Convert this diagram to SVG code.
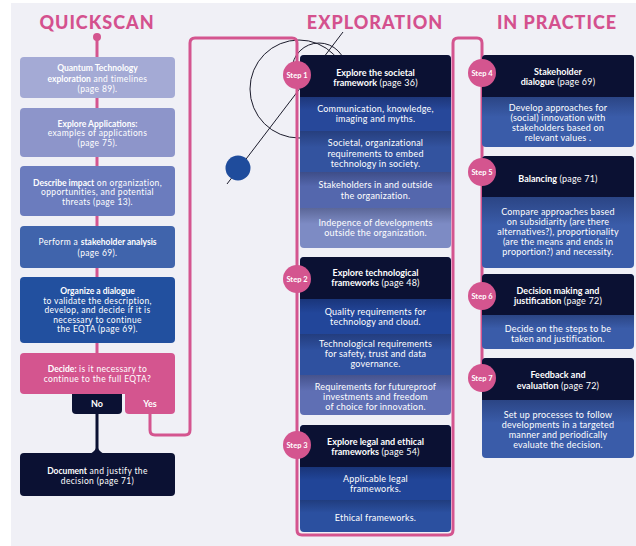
<svg xmlns="http://www.w3.org/2000/svg" width="636" height="546" viewBox="0 0 636 546">
  <style>
    .title { fill: #d4518e; font-family: Lato, "Open Sans", sans-serif; font-weight: 900; font-size: 18px; letter-spacing: 1px; text-anchor: middle; }
    .t { fill: #ffffff; font-family: Lato, "Open Sans", sans-serif; font-size: 9px; letter-spacing: 0.2px; text-anchor: middle; }
    .s { font-size: 8.5px; letter-spacing: 0.35px; }
    .b { font-weight: 700; letter-spacing: 0; }
    .conn { fill: none; stroke: #d4558f; stroke-width: 3; stroke-linejoin: round; }
    .deco { fill: none; stroke: #1c1c2c; stroke-width: 1; }
    .navy { fill: #0b1133; }
    .pink { fill: #d4558f; }
    .shade { fill: url(#rowShade); }
    .step { fill: #d4558f; }
    .steplbl { fill: #ffffff; font-family: Lato, "Open Sans", sans-serif; font-weight: 700; font-size: 7.5px; text-anchor: middle; }
  </style>
  <defs>
    <linearGradient id="rowShade" x1="0" y1="0" x2="0" y2="1">
      <stop offset="0" stop-color="#050a28" stop-opacity="0.28"/>
      <stop offset="0.4" stop-color="#050a28" stop-opacity="0"/>
    </linearGradient>
  </defs>

  <!-- page -->
  <rect x="0" y="0" width="636" height="546" fill="#ffffff"/>
  <rect x="11" y="3" width="625" height="543" fill="#f0f0f6"/>

  <!-- column titles -->
  <text class="title" x="97" y="29">QUICKSCAN</text>
  <text class="title" x="375" y="29">EXPLORATION</text>
  <text class="title" x="557" y="29">IN PRACTICE</text>

  <!-- decorative circles and line -->
  <g id="decoration">
    <circle class="deco" cx="299" cy="89" r="49"/>
    <circle class="deco" cx="319" cy="70" r="27"/>
    <line class="deco" x1="227" y1="184" x2="343" y2="32"/>
    <circle cx="238" cy="168" r="12.5" fill="#1f4c9c"/>
  </g>

  <!-- connectors -->
  <g id="connectors">
    <line class="conn" x1="97" y1="37" x2="97" y2="360"/>
    <circle cx="97" cy="37" r="4" class="pink"/>
    <path class="conn" d="M150,410 V430 Q150,435 155,435 H185 Q190,435 190,430 V43 Q190,38 195,38 H292 Q297,38 297,43 V530 Q297,535 302,535 H448 Q453,535 453,530 V43 Q453,38 458,38 H477 Q482,38 482,43 V378"/>
    <path d="M97,412 V452" fill="none" stroke="#0b1133" stroke-width="3"/>
    <path d="M90,454 Q97,450 97,444 Q97,450 104,454 Z" class="navy"/>
  </g>

  <!-- QUICKSCAN column -->
  <g id="qs-technology">
    <rect x="20" y="57" width="155" height="41" rx="4" fill="#a4aad5"/>
    <text class="t s" x="97.5" y="71"><tspan class="b">Quantum Technology</tspan></text>
    <text class="t s" x="97.5" y="81.5"><tspan class="b">exploration</tspan> and timelines</text>
    <text class="t s" x="97.5" y="92">(page 89).</text>
  </g>
  <g id="qs-applications">
    <rect x="20" y="108" width="155" height="49" rx="4" fill="#8d95ca"/>
    <text class="t s" x="97.5" y="126.5"><tspan class="b">Explore Applications:</tspan></text>
    <text class="t s" x="97.5" y="136">examples of applications</text>
    <text class="t s" x="97.5" y="145.5">(page 75).</text>
  </g>
  <g id="qs-impact">
    <rect x="20" y="166" width="155" height="50" rx="4" fill="#6b7cbe"/>
    <text class="t s" x="97.5" y="185.5"><tspan class="b">Describe impact</tspan> on organization,</text>
    <text class="t s" x="97.5" y="195">opportunities, and potential</text>
    <text class="t s" x="97.5" y="204.5">threats (page 13).</text>
  </g>
  <g id="qs-stakeholders">
    <rect x="20" y="226" width="155" height="42" rx="4" fill="#4064ac"/>
    <text class="t s" x="97.5" y="245">Perform a <tspan class="b">stakeholder analysis</tspan></text>
    <text class="t s" x="97.5" y="256">(page 69).</text>
  </g>
  <g id="qs-dialogue">
    <rect x="20" y="277" width="155" height="66" rx="4" fill="#22509f"/>
    <text class="t s" x="97.5" y="294"><tspan class="b">Organize a dialogue</tspan></text>
    <text class="t s" x="97.5" y="303.5">to validate the description,</text>
    <text class="t s" x="97.5" y="313">develop, and decide if it is</text>
    <text class="t s" x="97.5" y="322.5">necessary to continue</text>
    <text class="t s" x="97.5" y="332">the EQTA (page 69).</text>
  </g>
  <g id="qs-decide">
    <rect x="20" y="353" width="155" height="41" rx="4" class="pink"/>
    <path d="M125,388 H175 V410 Q175,414 171,414 H129 Q125,414 125,410 Z" class="pink"/>
    <text class="t s" x="97.5" y="371.5"><tspan class="b">Decide:</tspan> is it necessary to</text>
    <text class="t s" x="97.5" y="381.5">continue to the full EQTA?</text>
  </g>
  <g id="qs-no">
    <path d="M72,394 H122 V410 Q122,414 118,414 H76 Q72,414 72,410 Z" class="navy"/>
    <text class="t b" x="97" y="407">No</text>
  </g>
  <g id="qs-yes">
    <text class="t b" x="150" y="407">Yes</text>
  </g>
  <g id="qs-document">
    <rect x="20" y="453" width="155" height="43" rx="4" class="navy"/>
    <text class="t s" x="97.5" y="473.5"><tspan class="b">Document</tspan> and justify the</text>
    <text class="t s" x="97.5" y="483.5">decision (page 71)</text>
  </g>

  <!-- EXPLORATION column -->
  <g id="step1">
    <rect x="300" y="55" width="151" height="193" rx="4" fill="#7d8bc4"/>
    <rect x="300" y="97" width="151" height="34" fill="#27489a"/>
    <rect x="300" y="131" width="151" height="41" fill="#33539f"/>
    <rect x="300" y="172" width="151" height="36" fill="#5467ad"/>
    <rect class="shade" x="300" y="97" width="151" height="34"/>
    <rect class="shade" x="300" y="131" width="151" height="41"/>
    <rect class="shade" x="300" y="172" width="151" height="36"/>
    <rect class="shade" x="300" y="208" width="151" height="40"/>
    <path class="navy" d="M300,97 V59 Q300,55 304,55 H447 Q451,55 451,59 V97 Z"/>
    <text class="t" x="375.5" y="76"><tspan class="b">Explore the societal</tspan></text>
    <text class="t" x="375.5" y="86"><tspan class="b">framework</tspan> (page 36)</text>
    <text class="t" x="375.5" y="112">Communication, knowledge,</text>
    <text class="t" x="375.5" y="122">imaging and myths.</text>
    <text class="t" x="375.5" y="146">Societal, organizational</text>
    <text class="t" x="375.5" y="156.5">requirements to embed</text>
    <text class="t" x="375.5" y="167">technology in society.</text>
    <text class="t" x="375.5" y="188">Stakeholders in and outside</text>
    <text class="t" x="375.5" y="199">the organization.</text>
    <text class="t" x="375.5" y="226">Indepence of developments</text>
    <text class="t" x="375.5" y="236">outside the organization.</text>
    <circle class="step" cx="297" cy="75" r="14"/>
    <text class="steplbl" x="297" y="77.5">Step 1</text>
  </g>
  <g id="step2">
    <rect x="300" y="257" width="151" height="158" rx="4" fill="#5f6fb4"/>
    <rect x="300" y="299" width="151" height="35" fill="#22469a"/>
    <rect x="300" y="334" width="151" height="41" fill="#2f51a0"/>
    <rect class="shade" x="300" y="299" width="151" height="35"/>
    <rect class="shade" x="300" y="334" width="151" height="41"/>
    <rect class="shade" x="300" y="375" width="151" height="40"/>
    <path class="navy" d="M300,299 V261 Q300,257 304,257 H447 Q451,257 451,261 V299 Z"/>
    <text class="t" x="375.5" y="276"><tspan class="b">Explore technological</tspan></text>
    <text class="t" x="375.5" y="286"><tspan class="b">frameworks</tspan> (page 48)</text>
    <text class="t" x="375.5" y="314.5">Quality requirements for</text>
    <text class="t" x="375.5" y="324.5">technology and cloud.</text>
    <text class="t" x="375.5" y="347">Technological requirements</text>
    <text class="t" x="375.5" y="357">for safety, trust and data</text>
    <text class="t" x="375.5" y="367">governance.</text>
    <text class="t" x="375.5" y="389.5">Requirements for futureproof</text>
    <text class="t" x="375.5" y="399.5">investments and freedom</text>
    <text class="t" x="375.5" y="409.5">of choice for innovation.</text>
    <circle class="step" cx="297" cy="279" r="14"/>
    <text class="steplbl" x="297" y="281.5">Step 2</text>
  </g>
  <g id="step3">
    <rect x="300" y="425" width="151" height="107" rx="4" fill="#2b50a0"/>
    <rect x="300" y="467" width="151" height="33" fill="#214598"/>
    <rect class="shade" x="300" y="467" width="151" height="33"/>
    <rect class="shade" x="300" y="500" width="151" height="32"/>
    <path class="navy" d="M300,467 V429 Q300,425 304,425 H447 Q451,425 451,429 V467 Z"/>
    <text class="t" x="375.5" y="445"><tspan class="b">Explore legal and ethical</tspan></text>
    <text class="t" x="375.5" y="455"><tspan class="b">frameworks</tspan> (page 54)</text>
    <text class="t" x="375.5" y="482">Applicable legal</text>
    <text class="t" x="375.5" y="492">frameworks.</text>
    <text class="t" x="375.5" y="521">Ethical frameworks.</text>
    <circle class="step" cx="297" cy="445" r="14"/>
    <text class="steplbl" x="297" y="447.5">Step 3</text>
  </g>

  <!-- IN PRACTICE column -->
  <g id="step4">
    <rect x="482" y="55" width="152" height="92" rx="4" fill="#3a5ca9"/>
    <rect class="shade" x="482" y="97" width="152" height="50"/>
    <path class="navy" d="M482,97 V59 Q482,55 486,55 H630 Q634,55 634,59 V97 Z"/>
    <text class="t" x="558" y="75"><tspan class="b">Stakeholder</tspan></text>
    <text class="t" x="558" y="85"><tspan class="b">dialogue</tspan> (page 69)</text>
    <text class="t" x="558" y="111">Develop approaches for</text>
    <text class="t" x="558" y="121">(social) innovation with</text>
    <text class="t" x="558" y="131">stakeholders based on</text>
    <text class="t" x="558" y="141">relevant values .</text>
    <circle class="step" cx="482" cy="73" r="14"/>
    <text class="steplbl" x="482" y="75.5">Step 4</text>
  </g>
  <g id="step5">
    <rect x="482" y="156" width="152" height="112" rx="4" fill="#3a5ca9"/>
    <rect class="shade" x="482" y="197" width="152" height="71"/>
    <path class="navy" d="M482,197 V160 Q482,156 486,156 H630 Q634,156 634,160 V197 Z"/>
    <text class="t" x="558" y="182"><tspan class="b">Balancing</tspan> (page 71)</text>
    <text class="t" x="558" y="215">Compare approaches based</text>
    <text class="t" x="558" y="225">on subsidiarity (are there</text>
    <text class="t" x="558" y="235">alternatives?), proportionality</text>
    <text class="t" x="558" y="245">(are the means and ends in</text>
    <text class="t" x="558" y="255">proportion?) and necessity.</text>
    <circle class="step" cx="482" cy="172" r="14"/>
    <text class="steplbl" x="482" y="174.5">Step 5</text>
  </g>
  <g id="step6">
    <rect x="482" y="274" width="152" height="75" rx="4" fill="#3a5ca9"/>
    <rect class="shade" x="482" y="315" width="152" height="34"/>
    <path class="navy" d="M482,315 V278 Q482,274 486,274 H630 Q634,274 634,278 V315 Z"/>
    <text class="t" x="558" y="294"><tspan class="b">Decision making and</tspan></text>
    <text class="t" x="558" y="304"><tspan class="b">justification</tspan> (page 72)</text>
    <text class="t" x="558" y="331.5">Decide on the steps to be</text>
    <text class="t" x="558" y="341.5">taken and justification.</text>
    <circle class="step" cx="482" cy="296" r="14"/>
    <text class="steplbl" x="482" y="298.5">Step 6</text>
  </g>
  <g id="step7">
    <rect x="482" y="358" width="152" height="100" rx="4" fill="#3a5ca9"/>
    <rect class="shade" x="482" y="400" width="152" height="58"/>
    <path class="navy" d="M482,400 V362 Q482,358 486,358 H630 Q634,358 634,362 V400 Z"/>
    <text class="t" x="558" y="378"><tspan class="b">Feedback and</tspan></text>
    <text class="t" x="558" y="388.5"><tspan class="b">evaluation</tspan> (page 72)</text>
    <text class="t" x="558" y="418">Set up processes to follow</text>
    <text class="t" x="558" y="428">developments in a targeted</text>
    <text class="t" x="558" y="438">manner and periodically</text>
    <text class="t" x="558" y="448">evaluate the decision.</text>
    <circle class="step" cx="482" cy="378" r="14"/>
    <text class="steplbl" x="482" y="380.5">Step 7</text>
  </g>
</svg>
